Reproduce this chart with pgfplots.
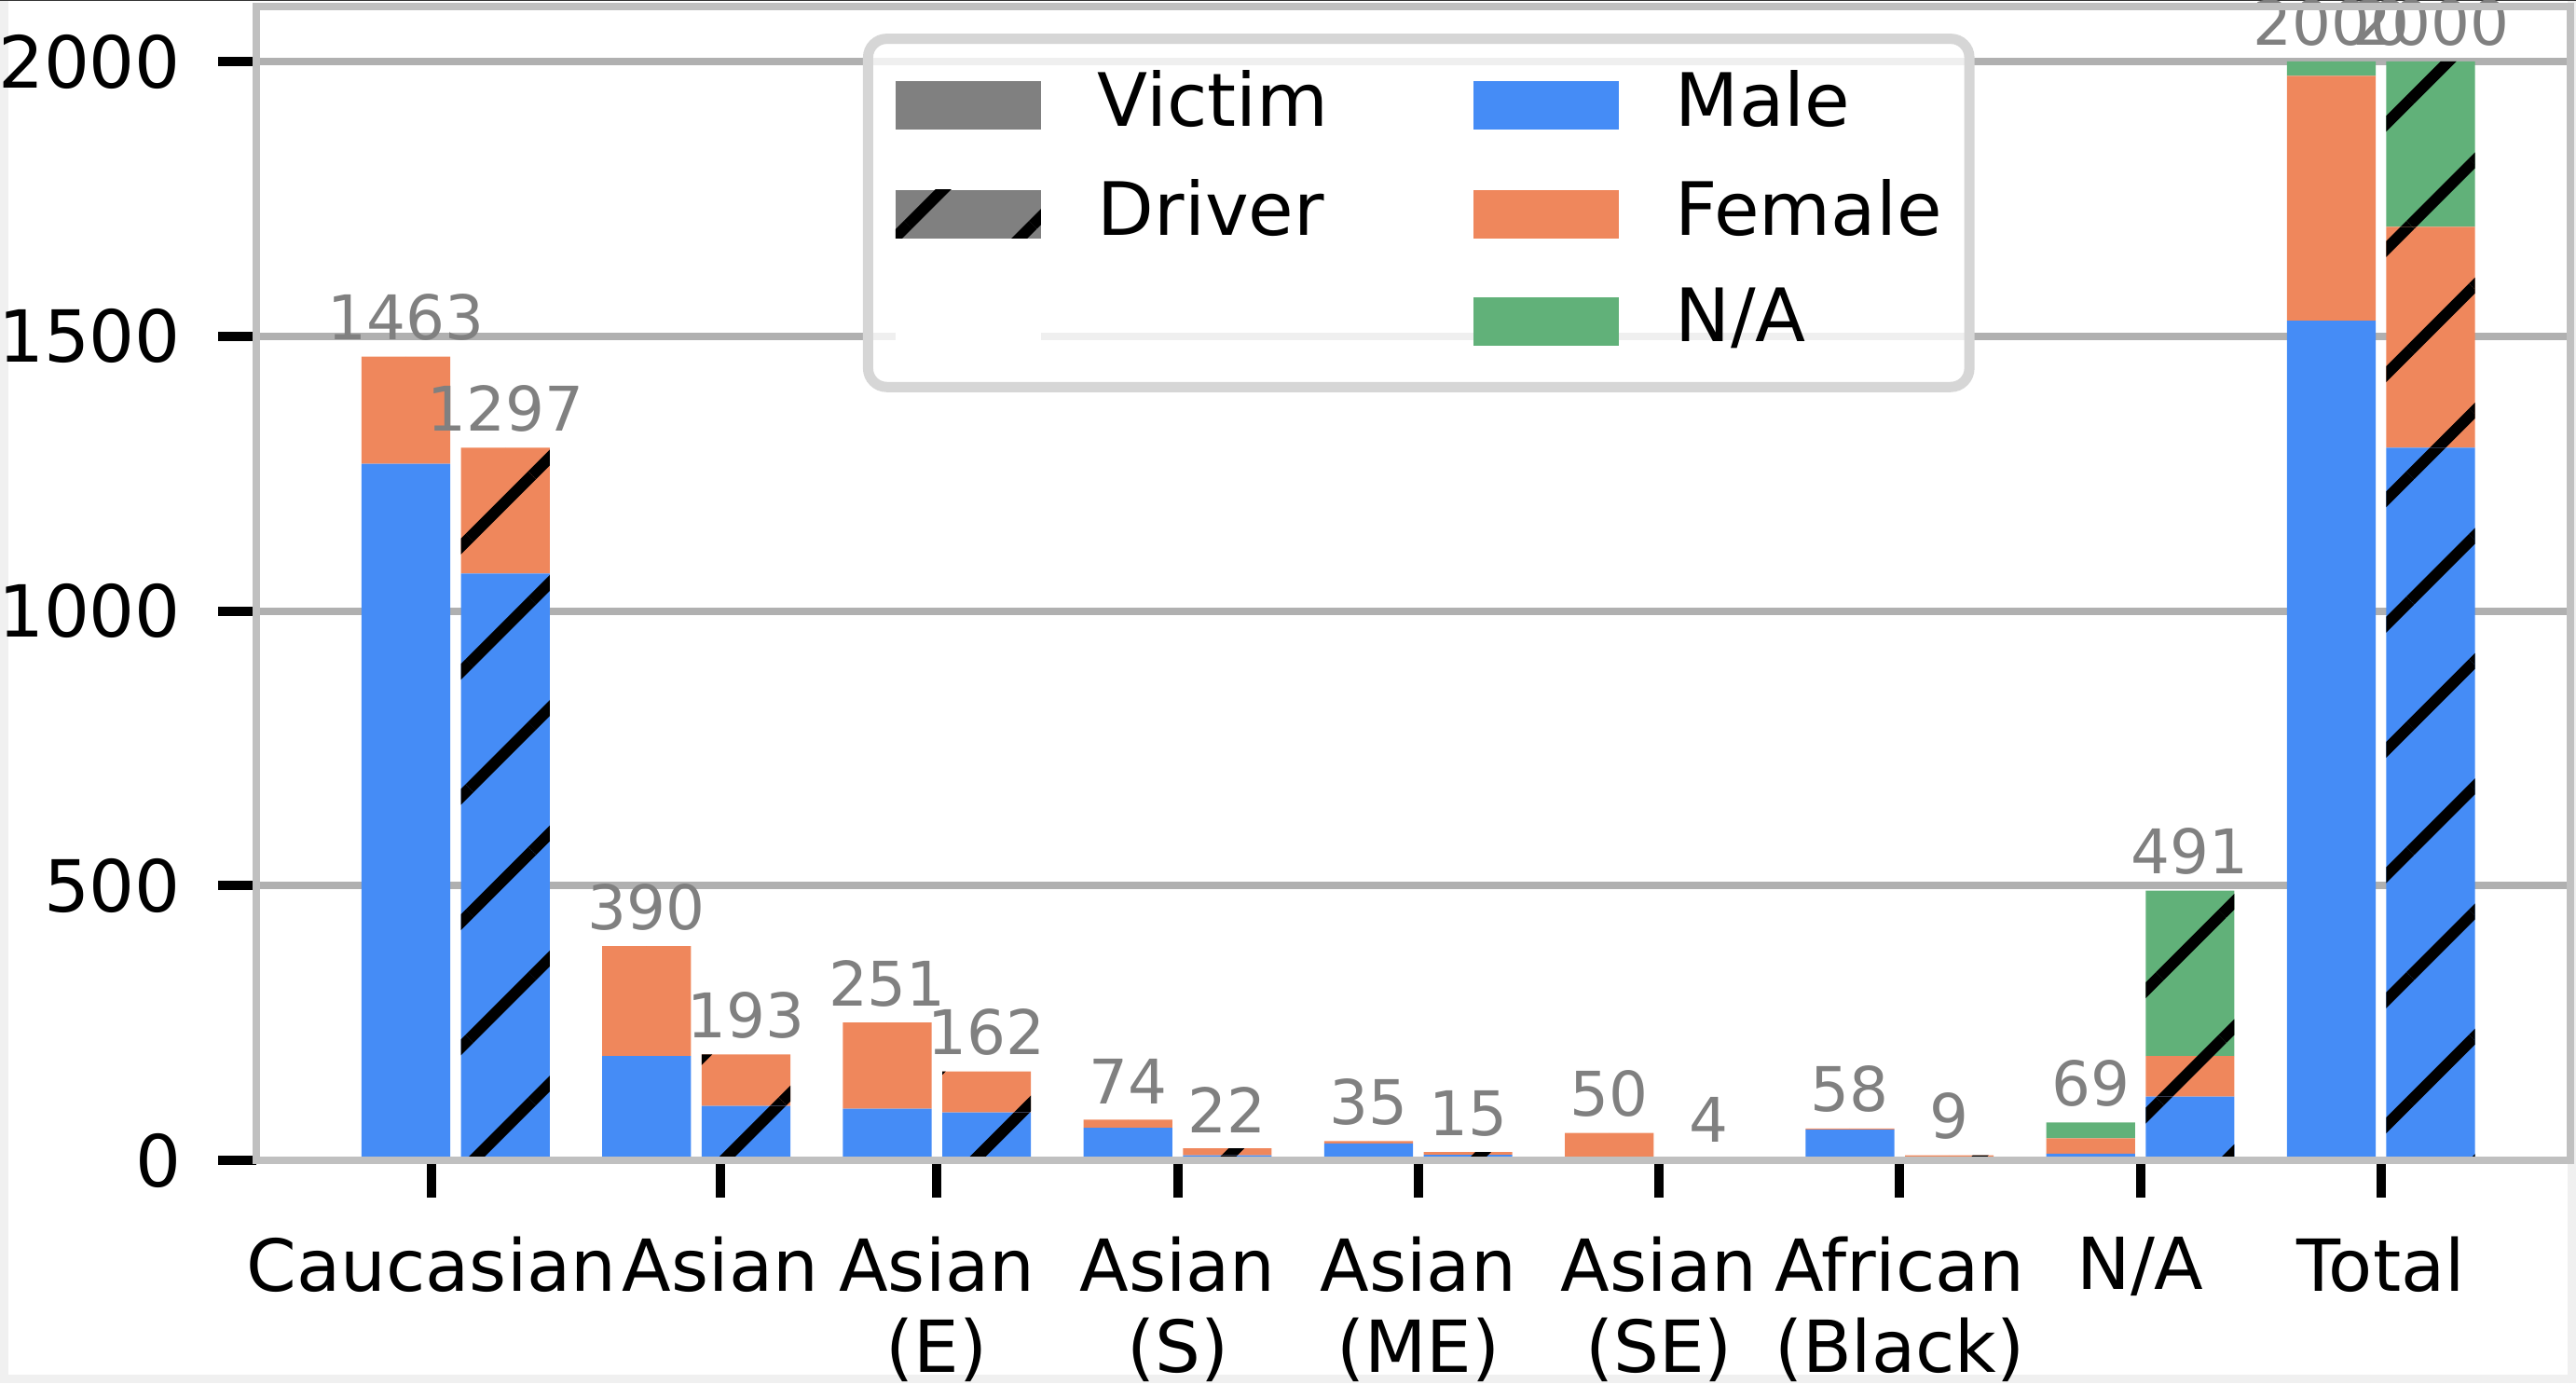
\documentclass[border=0pt]{standalone}
\usepackage{fontspec}
\setmainfont{DejaVu Sans}
\usepackage{pgfplots}
\usepackage{pgfplotstable}
\pgfplotsset{compat=1.18}
\usetikzlibrary{patterns.meta}

\definecolor{male}{RGB}{69,140,246}
\definecolor{female}{RGB}{239,135,92}
\definecolor{nacol}{RGB}{97,177,121}
\definecolor{vgray}{RGB}{128,128,128}
\definecolor{spine}{RGB}{192,192,192}
\definecolor{gridc}{RGB}{176,176,176}
\definecolor{legedge}{RGB}{214,214,214}
\definecolor{framec}{RGB}{240,240,240}

\pgfplotsset{
  layers/bars between/.define layer set={
    axis background,axis grid,pre main,main,axis ticks,axis lines,
    axis tick labels,axis descriptions,axis foreground
  }{/pgfplots/layers/standard},
  patch/.style={legend image code/.code={%
    \fill[##1,draw=none,fill opacity=1,sharp corners] (0pt,-2.6pt) rectangle (15.6pt,2.6pt);}},
  frame/.style={at={(27.45pt,23.9pt)}, anchor=south west,
    scale only axis, width=248.35pt, height=123.8pt,
    xmin=-0.83, xmax=8.787, ymin=0, ymax=2100,
    /pgf/number format/assume math mode=true,
    /pgf/number format/1000 sep={}},
}
\tikzset{hatch/.style={postaction={draw=none,pattern={Lines[angle=45,distance=9.5pt,line width=1.2pt]},pattern color=black}}}

% victim bar at i-0.2065, driver bar at i+0.2065
\pgfplotstableread{
x        vm    vf   vn   dm    df   dn   tot
-0.2065  1268  195  0    0     0    0    1463
 0.2065  0     0    0    1068  229  0    1297
 0.7935  190   200  0    0     0    0    390
 1.2065  0     0    0    99    94   0    193
 1.7935  94    157  0    0     0    0    251
 2.2065  0     0    0    87    75   0    162
 2.7935  59    15   0    0     0    0    74
 3.2065  0     0    0    9     13   0    22
 3.7935  31    4    0    0     0    0    35
 4.2065  0     0    0    10    5    0    15
 4.7935  0     50   0    0     0    0    50
 5.2065  0     0    0    2     2    0    4
 5.7935  56    2    0    0     0    0    58
 6.2065  0     0    0    3     6    0    9
 6.7935  12    28   29   0     0    0    69
 7.2065  0     0    0    116   74   301  491
 7.7935  1528  446  26   0     0    0    2000
 8.2065  0     0    0    1297  402  301  2000
}\data

\begin{document}
\begin{tikzpicture}
\fill[framec] (0,0) rectangle (0.9pt,148.4pt);
\fill[framec] (275.5pt,0) rectangle (276.4pt,148.4pt);
\fill[framec] (0,0) rectangle (276.4pt,0.9pt);
\fill[black!80] (0,148.3pt) rectangle (276.4pt,148.4pt);
\begin{axis}[
  frame,
  set layers=bars between,
  ybar stacked, bar width=0.3686,
  xtick={-0.1,1.1,2,3,4,5,6,7,8},
  xticklabels={Caucasian,Asian,{Asian\\(E)},{Asian\\(S)},{Asian\\(ME)},{Asian\\(SE)},{African\\(Black)},N/A,Total},
  ytick={0,500,1000,1500,2000},
  scaled y ticks=false,
  ymajorgrids, grid style={draw=gridc, line width=0.8pt},
  axis line style={draw=spine, line width=0.8pt},
  tick align=outside, tick pos=left, major tick length=4pt,
  tick style={draw=black, line width=1pt},
  tick label style={font=\fontsize{7.7}{8.7}\selectfont},
  xticklabel style={align=center, inner ysep=4pt},
  yticklabel style={inner xsep=3.85pt},
  legend columns=2, legend cell align=left,
  legend style={
    at={(0.2623,0.9765)}, anchor=north west,
    draw=legedge, line width=1.1pt, rounded corners=2pt,
    fill=white, fill opacity=0.8, text opacity=1,
    inner xsep=2.95pt, inner ysep=3.35pt, row sep=4.2pt,
    font=\fontsize{7.9}{8.9}\selectfont,
    nodes={inner sep=0pt},
    /tikz/every odd column/.append style={column sep=6.1pt},
    /tikz/every even column/.append style={column sep=15.55pt},
  },
]
\addlegendimage{patch, fill=vgray}\addlegendentry{Victim}
\addlegendimage{patch, fill=male}\addlegendentry{Male}
\addlegendimage{patch, fill=vgray, hatch}\addlegendentry{Driver}
\addlegendimage{patch, fill=female}\addlegendentry{Female}
\addlegendimage{patch, fill=white}\addlegendentry{}
\addlegendimage{patch, fill=nacol}\addlegendentry{N/A}

\addplot[fill=male, draw=none] table[x=x,y=vm]{\data};
\addplot[fill=female, draw=none] table[x=x,y=vf]{\data};
\addplot[fill=nacol, draw=none] table[x=x,y=vn]{\data};
\addplot[fill=male, draw=none, hatch] table[x=x,y=dm]{\data};
\addplot[fill=female, draw=none, hatch] table[x=x,y=df]{\data};
\addplot[fill=nacol, draw=none, hatch] table[x=x,y=dn]{\data};
\end{axis}
% bar totals, in a second axis laid over the first
\begin{axis}[frame, hide axis, clip=false]
\addplot[only marks, mark=*, mark size=0pt, mark options={draw=none, fill=none},
  nodes near coords, point meta=explicit,
  every node near coord/.append style={font=\fontsize{6.6}{7.9}\selectfont,
    text=vgray, anchor=south, inner sep=0pt, yshift=1.5pt}]
  table[x=x,y=tot,meta=tot]{\data};
\end{axis}
\pgfresetboundingbox
\path (0,0) rectangle (276.4pt,148.4pt);
\end{tikzpicture}
\end{document}
